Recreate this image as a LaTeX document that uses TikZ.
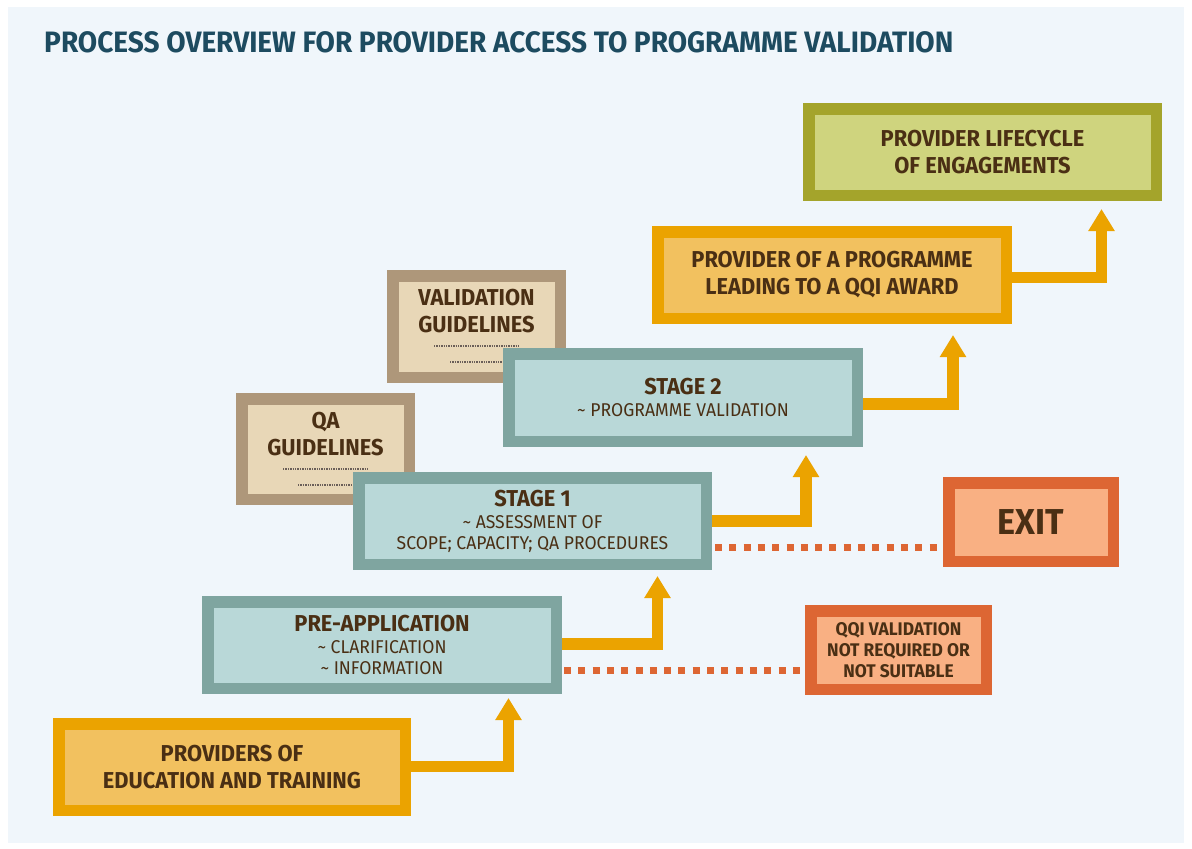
\documentclass[tikz,border=0pt]{standalone}
\usepackage{fontspec}
\setmainfont{Fira Sans}[FakeStretch=0.95]
\usetikzlibrary{arrows.meta}
\definecolor{bgC}{HTML}{F0F6FB}
\definecolor{titleC}{HTML}{1D4B60}
\definecolor{txtC}{HTML}{4A2F14}
\definecolor{orBorder}{HTML}{EBA300}
\definecolor{orFill}{HTML}{F2C15F}
\definecolor{tlBorder}{HTML}{7FA5A0}
\definecolor{tlFill}{HTML}{B9D8D8}
\definecolor{olBorder}{HTML}{A4A42B}
\definecolor{olFill}{HTML}{CFD47E}
\definecolor{tnBorder}{HTML}{AE977A}
\definecolor{tnFill}{HTML}{E8D7B7}
\definecolor{rdBorder}{HTML}{DD6633}
\definecolor{rdFill}{HTML}{F9B083}
\definecolor{dotC}{HTML}{6A5E58}
\newcommand{\hd}{\bfseries\fontsize{23}{27}\selectfont}
\newcommand{\hdi}{\bfseries\fontsize{23}{21}\selectfont}
\newcommand{\sub}{\mdseries\fontsize{18.5}{21}\selectfont}
\newcommand{\tld}{\char"007E\ }
\tikzset{
  box/.style={draw, line width=11.5pt, inner sep=0pt, align=center, text=txtC},
  orbox/.style={box, draw=orBorder, fill=orFill},
  tlbox/.style={box, draw=tlBorder, fill=tlFill},
  olbox/.style={box, draw=olBorder, fill=olFill},
  tnbox/.style={box, draw=tnBorder, fill=tnFill},
  rdbox/.style={box, draw=rdBorder, fill=rdFill},
  arr/.style={draw=orBorder, line width=11.5pt, line join=miter,
    -{Triangle[width=25pt,length=22pt]}},
  exitline/.style={draw=rdBorder, line width=7pt, dash pattern=on 7pt off 7.3pt},
  guide/.style={draw=dotC, line width=2pt, dash pattern=on 1.4pt off 1pt},
  lbl/.style={text=txtC, align=center, inner sep=0pt},
}
\begin{document}
\begin{tikzpicture}[x=1pt,y=-1pt]
\useasboundingbox (0,0) rectangle (1192,849);
\fill[white] (0,0) rectangle (1192,849);
\fill[bgC] (8,7) rectangle (1184,843);

\node[anchor=west, text=titleC, inner sep=0pt, font=\bfseries\fontsize{29.5}{34}\selectfont] (title) at (44,42) {PROCESS OVERVIEW FOR PROVIDER ACCESS TO PROGRAMME VALIDATION};

% guideline boxes (behind stages)
\node[tnbox, minimum width=167.5pt, minimum height=101.5pt] (vg) at (476.5,326.5) {};
\node[lbl, font=\hd] (vgt) at (476.5,311.5) {VALIDATION\\GUIDELINES};
\draw[guide] (434,346) -- (519,346);
\draw[guide] (450,362) -- (505,362);

\node[tnbox, minimum width=167.5pt, minimum height=100.5pt] (qa) at (325.5,449) {};
\node[lbl, font=\hd] (qat) at (325.5,434.5) {QA\\GUIDELINES};
\draw[guide] (283,469) -- (368,469);
\draw[guide] (298,485) -- (355,485);

% main boxes
\node[orbox, font=\hd, minimum width=346.5pt, minimum height=86.5pt] (prov) at (232,767)
  {PROVIDERS OF\\EDUCATION AND TRAINING};
\node[tlbox, font=\sub, minimum width=348.5pt, minimum height=86.5pt] (pre) at (382,645)
  {{\hdi PRE-APPLICATION}\\[1pt]\tld CLARIFICATION\\\tld INFORMATION};
\node[tlbox, font=\sub, minimum width=347.5pt, minimum height=86.5pt] (st1) at (532.5,521)
  {{\hdi STAGE 1}\\[1pt]\tld ASSESSMENT OF\\SCOPE; CAPACITY; QA PROCEDURES};
\node[tlbox, font=\sub, minimum width=348.5pt, minimum height=87.5pt] (st2) at (683,397.5)
  {{\hdi STAGE 2}\\[1pt]\tld PROGRAMME VALIDATION};
\node[orbox, font=\hd, minimum width=348.5pt, minimum height=86.5pt] (prog) at (832,275)
  {PROVIDER OF A PROGRAMME\\LEADING TO A QQI AWARD};
\node[olbox, font=\hd, minimum width=347.5pt, minimum height=86.5pt] (life) at (982.5,152)
  {PROVIDER LIFECYCLE\\OF ENGAGEMENTS};
\node[rdbox, minimum width=164.5pt, minimum height=78.5pt, font=\bfseries\fontsize{36}{40}\selectfont] (exit) at (1031,522) {EXIT};
\node[rdbox, minimum width=175.5pt, minimum height=78.5pt, font=\bfseries\fontsize{18.3}{21}\selectfont] (qqi) at (898.5,650)
  {QQI VALIDATION\\NOT REQUIRED OR\\NOT SUITABLE};

% arrow tips
\coordinate (t1) at (508.5,698);
\coordinate (t2) at (657.5,576);
\coordinate (t3) at (806,455);
\coordinate (t4) at (953,335);
\coordinate (t5) at (1101.5,209);

\draw[arr] ([yshift=0.5pt]prov.east) -| (t1);
\draw[arr] ([yshift=1pt]pre.east) -| (t2);
\draw[arr] (st1.east) -| (t3);
\draw[arr] ([yshift=-6.5pt]st2.east) -| (t4);
\draw[arr] ([yshift=-2.5pt]prog.east) -| (t5);

% exit lines
\coordinate (d1) at ([xshift=2pt,yshift=-25pt]pre.east);
\coordinate (d2) at ([xshift=3pt,yshift=-26pt]st1.east);
\draw[exitline] (d1) -- (qqi.west |- d1);
\draw[exitline] (d2) -- (exit.west |- d2);
\end{tikzpicture}
\end{document}
